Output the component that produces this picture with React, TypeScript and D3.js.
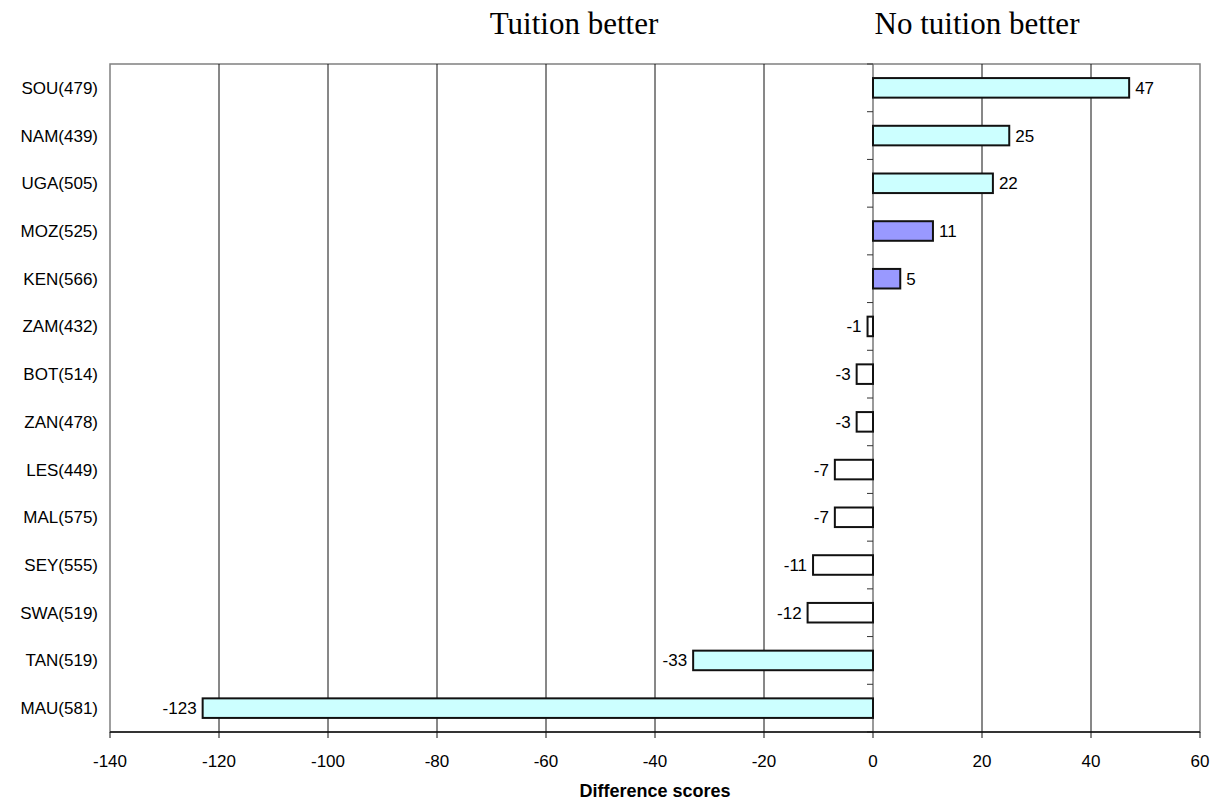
import React from "react";
import * as d3 from "d3";

// Countries (with sample sizes) from top to bottom
const countries = [
  "SOU(479)", "NAM(439)", "UGA(505)", "MOZ(525)", "KEN(566)", "ZAM(432)", "BOT(514)",
  "ZAN(478)", "LES(449)", "MAL(575)", "SEY(555)", "SWA(519)", "TAN(519)", "MAU(581)",
];
// Difference scores (no tuition minus tuition)
const differences = [47, 25, 22, 11, 5, -1, -3, -3, -7, -7, -11, -12, -33, -123];
// Significance class of each difference
const significance = [
  "strong", "strong", "strong", "moderate", "moderate", "none", "none",
  "none", "none", "none", "none", "none", "strong", "strong",
];
const xTicks = [-140, -120, -100, -80, -60, -40, -20, 0, 20, 40, 60];

const fillFor: Record<string, string> = {
  strong: "#CCFFFF",
  moderate: "#9999FF",
  none: "#FFFFFF",
};

const W = 1229;
const H = 802;
const plot = { left: 110, right: 1200, top: 64, bottom: 732 };

export default function App() {
  const x = d3.scaleLinear().domain([-140, 60]).range([plot.left, plot.right]);
  const y = d3
    .scaleBand<string>()
    .domain(countries)
    .range([plot.top, plot.bottom])
    .paddingInner(0.59)
    .paddingOuter(0.295);
  const step = y.step();
  const sans = "'Liberation Sans', Arial, sans-serif";
  const serif = "'Liberation Serif', 'Times New Roman', serif";
  const x0 = x(0);

  const boundaries = d3.range(countries.length + 1).map((i) => plot.top + i * step);

  return (
    <svg
      width={W}
      height={H}
      viewBox={`0 0 ${W} ${H}`}
      style={{ position: "absolute", left: 0, top: 0, background: "#fff" }}
    >
      <text x={574} y={34} fontFamily={serif} fontSize={31} fill="#000" textAnchor="middle">
        Tuition better
      </text>
      <text x={977} y={34} fontFamily={serif} fontSize={31} fill="#000" textAnchor="middle">
        No tuition better
      </text>

      {/* plot frame */}
      <rect
        x={plot.left}
        y={plot.top}
        width={plot.right - plot.left}
        height={plot.bottom - plot.top}
        fill="none"
        stroke="#808080"
        strokeWidth={1.5}
      />

      {/* vertical gridlines */}
      {xTicks
        .filter((t) => t !== -140 && t !== 60 && t !== 0)
        .map((t) => (
          <line key={t} x1={x(t)} x2={x(t)} y1={plot.top} y2={plot.bottom} stroke="#111" strokeWidth={1} />
        ))}

      {/* category axis at zero */}
      <line x1={x0} x2={x0} y1={plot.top} y2={plot.bottom} stroke="#777" strokeWidth={1.5} />
      {boundaries.map((b, i) => (
        <line key={i} x1={x0 - 6} x2={x0} y1={b} y2={b} stroke="#333" strokeWidth={1} />
      ))}

      {/* bars */}
      {countries.map((c, i) => {
        const v = differences[i];
        const bx = Math.min(x(v), x0);
        const bw = Math.abs(x(v) - x0);
        return (
          <rect
            key={c}
            x={bx}
            y={y(c)!}
            width={bw}
            height={y.bandwidth()}
            fill={fillFor[significance[i]]}
            stroke="#111"
            strokeWidth={2}
          />
        );
      })}

      {/* value labels */}
      {countries.map((c, i) => {
        const v = differences[i];
        const cy = y(c)! + y.bandwidth() / 2;
        return (
          <text
            key={c}
            x={v >= 0 ? x(v) + 6 : x(v) - 6}
            y={cy + 6}
            fontFamily={sans}
            fontSize={17}
            fill="#000"
            textAnchor={v >= 0 ? "start" : "end"}
          >
            {v}
          </text>
        );
      })}

      {/* category labels */}
      {countries.map((c) => (
        <text
          key={c}
          x={98}
          y={y(c)! + y.bandwidth() / 2 + 6}
          fontFamily={sans}
          fontSize={17}
          fill="#000"
          textAnchor="end"
        >
          {c}
        </text>
      ))}

      {/* value axis */}
      <line x1={plot.left} x2={plot.right} y1={plot.bottom} y2={plot.bottom} stroke="#111" strokeWidth={1.5} />
      {xTicks.map((t) => (
        <g key={t}>
          <line x1={x(t)} x2={x(t)} y1={plot.bottom} y2={plot.bottom + 6} stroke="#111" strokeWidth={1} />
          <text x={x(t)} y={767} fontFamily={sans} fontSize={17} fill="#000" textAnchor="middle">
            {t}
          </text>
        </g>
      ))}
      <text
        x={(plot.left + plot.right) / 2}
        y={797}
        fontFamily={sans}
        fontSize={18}
        fontWeight="bold"
        fill="#000"
        textAnchor="middle"
      >
        Difference scores
      </text>
    </svg>
  );
}
